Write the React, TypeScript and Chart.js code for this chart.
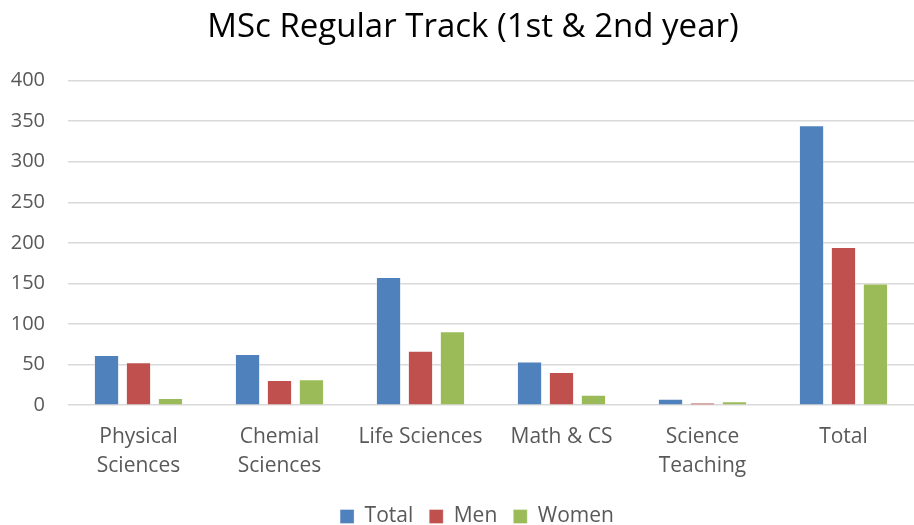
import React, { useEffect, useRef } from "react";
import { Chart, registerables } from "chart.js";

Chart.register(...registerables);

const categories: (string | string[])[] = [
  ["Physical", "Sciences"],
  ["Chemial", "Sciences"],
  "Life Sciences",
  "Math & CS",
  ["Science", "Teaching"],
  "Total",
];
const totalValues = [62, 63, 158, 54, 8, 345];
const menValues = [53, 31, 67, 41, 3, 195];
const womenValues = [9, 32, 91, 13, 5, 150];
const yTicks = [0, 50, 100, 150, 200, 250, 300, 350, 400];

const FONT = "'Open Sans', 'Liberation Sans', sans-serif";

const boxShift = {
  id: "boxShift",
  afterLayout(chart: any) {
    const lg = chart.legend;
    if (lg) {
      lg.left += 16;
      lg.right += 16;
    }
    const tt = chart.titleBlock;
    if (tt) {
      tt.left += 12;
      tt.right += 12;
    }
  },
};

export default function App() {
  const ref = useRef<HTMLCanvasElement | null>(null);
  useEffect(() => {
    document.body.style.margin = "0";
    const ctx = ref.current!;
    const chart = new Chart(ctx, {
      type: "bar",
      data: {
        labels: categories,
        datasets: [
          { label: "Total", data: totalValues, backgroundColor: "#4F81BD", borderColor: "rgba(255,255,255,0.35)", borderWidth: 1 },
          { label: "Men", data: menValues, backgroundColor: "#C0504D", borderColor: "rgba(255,255,255,0.35)", borderWidth: 1 },
          { label: "Women", data: womenValues, backgroundColor: "#9BBB59", borderColor: "rgba(255,255,255,0.35)", borderWidth: 1 },
        ],
      },
      plugins: [boxShift],
      options: {
        animation: false,
        responsive: false,
        maintainAspectRatio: false,
        layout: { padding: { left: 0, right: -8, top: 0, bottom: -12 } },
        datasets: { bar: { categoryPercentage: 0.68, barPercentage: 0.79 } },
        plugins: {
          title: {
            display: true,
            text: "MSc Regular Track (1st & 2nd year)",
            color: "#000000",
            font: { family: FONT, size: 33, weight: "normal" },
            padding: { top: 8, bottom: 33 },
          },
          legend: {
            position: "bottom",
            labels: {
              color: "#595959",
              font: { family: FONT, size: 21 },
              boxWidth: 14,
              boxHeight: 14,
              padding: 16,
            },
          },
          tooltip: { enabled: false },
        },
        scales: {
          x: {
            grid: { display: false },
            border: { display: false },
            ticks: { color: "#595959", font: { family: FONT, size: 21, lineHeight: 1.4 }, padding: 9, maxRotation: 0 },
          },
          y: {
            min: 0,
            max: 400,
            afterBuildTicks: (axis: any) => {
              axis.ticks = yTicks.map((v) => ({ value: v }));
            },
            afterFit: (axis: any) => {
              axis.width = 68;
            },
            grid: { color: "#D9D9D9", lineWidth: 1.5, drawTicks: false },
            border: { display: false },
            ticks: { color: "#595959", font: { family: FONT, size: 20 }, padding: 23 },
          },
        },
      },
    });
    return () => chart.destroy();
  }, []);
  return (
    <div style={{ width: 914, height: 525 }}>
      <canvas ref={ref} width={914} height={525} />
    </div>
  );
}
